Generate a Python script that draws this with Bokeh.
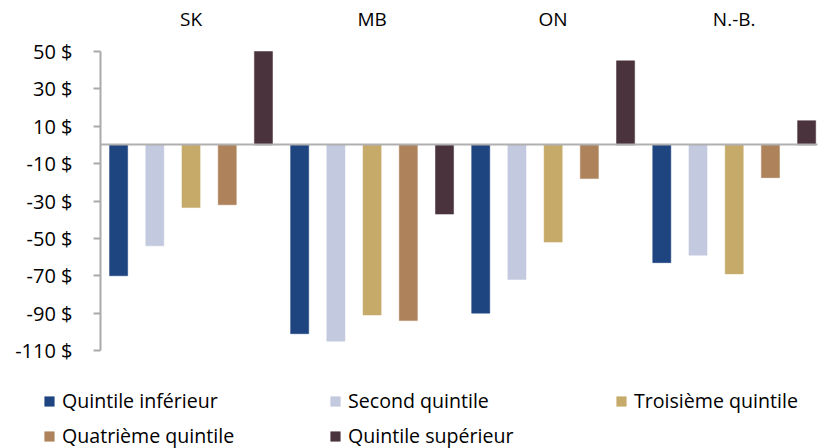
from bokeh.plotting import figure
from bokeh.models import (Range1d, FixedTicker, Legend, LegendItem, ColumnDataSource,
                          LinearAxis)
from bokeh.embed import file_html
from bokeh.resources import INLINE

provinces = ["SK", "MB", "ON", "N.-B."]
series = ["Quintile inférieur", "Second quintile", "Troisième quintile",
          "Quatrième quintile", "Quintile supérieur"]
q1 = [-70, -101, -90, -63]
q2 = [-54, -105, -72, -59]
q3 = [-33.5, -91, -52, -69]
q4 = [-32, -94, -18, -17.5]
q5 = [50, -37, 45, 13]
values = [q1, q2, q3, q4, q5]
colors = ["#1f4580", "#c3c9de", "#c6aa6a", "#ae825a", "#4a333d"]
yticks = [50, 30, 10, -10, -30, -50, -70, -90, -110]
ytick_labels = {t: f"{t} $" for t in yticks}

FONT = "Open Sans"
FS = "19px"

W, H = 818, 448
# pixel layout of the plotting area (axis at x=100, 50 at y=51, -110 at y=350)
AX_X, X_RIGHT = 100, 817
Y_TOP_PX, Y_BOT_PX = 51, 350
ymax, ymin = max(yticks), min(yticks)
n = len(series)
n_slots_shown = 19.8
px_per_x = (X_RIGHT - AX_X) / n_slots_shown
px_per_y = (Y_BOT_PX - Y_TOP_PX) / (ymax - ymin)
x_range = Range1d(-AX_X / px_per_x, (W - AX_X) / px_per_x)
y_range = Range1d(ymin - (H - Y_BOT_PX) / px_per_y, ymax + Y_TOP_PX / px_per_y)

p = figure(width=W, height=H, output_backend="svg", toolbar_location=None,
           x_axis_location="above", x_range=x_range, y_range=y_range,
           min_border_left=0, min_border_right=0, min_border_top=0, min_border_bottom=0)
p.outline_line_color = None
p.grid.visible = False
p.background_fill_color = "white"
p.border_fill_color = "white"

renderers = []
for j, (name, vals, col) in enumerate(zip(series, values, colors)):
    xs = [g * n + j + 0.5 for g in range(len(provinces))]
    src = ColumnDataSource(dict(x=xs, top=vals))
    r = p.vbar(x="x", top="top", bottom=0, width=0.5, source=src,
               fill_color=col, line_color=col, line_width=0.5)
    renderers.append((name, r))

# zero line as an axis limited to the plotting width
zero_axis = LinearAxis(fixed_location=0, bounds=(0, n_slots_shown),
                       ticker=FixedTicker(ticks=[]))
zero_axis.axis_line_color = "#b0b0b0"
zero_axis.axis_line_width = 2
zero_axis.major_tick_line_color = None
zero_axis.minor_tick_line_color = None
zero_axis.major_label_text_alpha = 0
p.add_layout(zero_axis, "below")

# top axis: province labels
xa = p.xaxis[0]
xa.fixed_location = ymax
xa.ticker = FixedTicker(ticks=[g * n + n / 2 for g in range(len(provinces))])
xa.major_label_overrides = {g * n + n / 2: prov for g, prov in enumerate(provinces)}
xa.axis_line_color = None
xa.major_tick_line_color = None
xa.minor_tick_line_color = None
xa.major_label_text_font = FONT
xa.major_label_text_font_size = FS
xa.major_label_text_color = "black"
xa.major_label_standoff = 14

ya = p.yaxis[0]
ya.fixed_location = 0
ya.bounds = (ymin, ymax)
ya.ticker = FixedTicker(ticks=yticks)
ya.major_label_overrides = ytick_labels
ya.axis_line_color = "#aaaaaa"
ya.axis_line_width = 2
ya.major_tick_line_color = "#aaaaaa"
ya.major_tick_line_width = 2
ya.major_tick_out = 7
ya.major_tick_in = 0
ya.minor_tick_line_color = None
ya.major_label_text_font = FONT
ya.major_label_text_font_size = "20px"
ya.major_label_text_color = "black"
ya.major_label_standoff = 21

legend = Legend(items=[LegendItem(label=nm, renderers=[r]) for nm, r in renderers],
                ncols=3, location=(43, -1), orientation="horizontal")
legend.padding = 0
legend.margin = 0
legend.spacing = 8
legend.glyph_width = 12
legend.glyph_height = 12
legend.label_standoff = 7
legend.label_width = 259
legend.label_height = 26
legend.label_text_font = FONT
legend.label_text_font_size = "19.6px"
legend.label_text_color = "black"
legend.border_line_color = None
legend.background_fill_alpha = 0
p.add_layout(legend, "center")

open("out.html", "w").write(file_html(p, INLINE))
